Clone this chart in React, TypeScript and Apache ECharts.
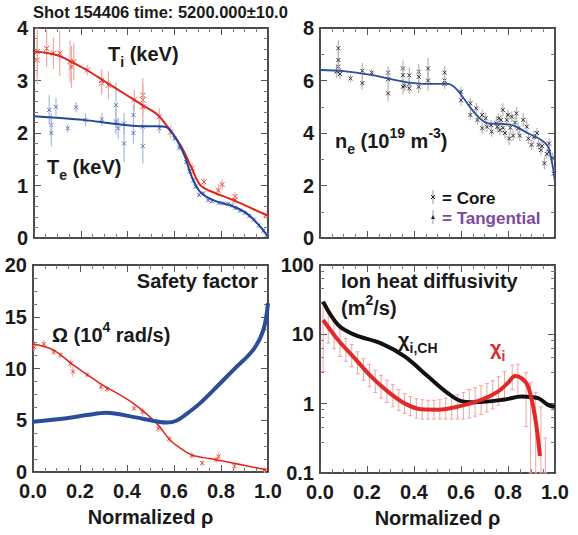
import React, { useEffect, useRef } from "react";
import * as echarts from "echarts";

const FONT = "'Liberation Sans', Arial, Helvetica, sans-serif";

// ---------- Panel 1: temperatures (keV) ----------
const tiFitRho = [0, 0.05, 0.1, 0.15, 0.225, 0.3, 0.4, 0.467, 0.53, 0.58, 0.63, 0.674, 0.71, 0.75, 0.852, 1.0];
const tiFitVal = [3.55, 3.53, 3.48, 3.38, 3.2, 2.99, 2.71, 2.52, 2.34, 2.06, 1.74, 1.33, 1.01, 0.9, 0.72, 0.42];
const teFitRho = [0, 0.1, 0.21, 0.353, 0.453, 0.538, 0.574, 0.61, 0.645, 0.674, 0.71, 0.766, 0.852, 0.909, 0.966, 1.0];
const teFitVal = [2.32, 2.29, 2.25, 2.17, 2.13, 2.13, 2.09, 1.87, 1.55, 1.17, 0.88, 0.72, 0.6, 0.47, 0.22, 0.03];
// [rho, value, error]
const tiPoints = [
  [0.014, 3.39, 0.46], [0.014, 3.55, 0.46], [0.054, 3.61, 0.35], [0.083, 3.52, 0.3], [0.11, 3.52, 0.43],
  [0.154, 3.36, 0.4], [0.16, 3.26, 0.4], [0.17, 3.36, 0.35], [0.228, 3.2, 0.1], [0.289, 2.95, 0.22],
  [0.289, 3.0, 0.22], [0.318, 2.91, 0.27], [0.429, 2.63, 0.2], [0.465, 2.72, 0.33], [0.465, 2.63, 0.3],
  [0.465, 2.5, 0.3], [0.536, 2.31, 0.16], [0.584, 2.02, 0.12], [0.676, 1.33, 0.1], [0.726, 1.07, 0.07],
  [0.788, 0.91, 0.11], [0.804, 1.02, 0.1], [0.859, 0.79, 0.08], [0.859, 0.72, 0.08], [0.991, 0.44, 0.07],
];
const tePoints = [
  [0.065, 2.44, 0.28], [0.074, 2.15, 0.23], [0.074, 2.0, 0.25], [0.094, 2.5, 0.17], [0.144, 2.09, 0.08],
  [0.18, 2.49, 0.1], [0.22, 2.25, 0.13], [0.29, 2.26, 0.12], [0.35, 2.53, 0.43], [0.35, 2.22, 0.25],
  [0.36, 2.09, 0.2], [0.385, 2.18, 0.2], [0.385, 1.8, 0.35], [0.425, 2.34, 0.2], [0.425, 2.0, 0.2],
  [0.465, 2.12, 0.13], [0.465, 1.75, 0.33], [0.536, 2.09, 0.1], [0.6, 1.9, 0.06], [0.62, 1.72, 0.06],
  [0.65, 1.45, 0.05], [0.665, 1.27, 0.05], [0.68, 1.1, 0.05], [0.69, 0.98, 0.05], [0.705, 0.82, 0.04],
  [0.724, 0.85, 0.04], [0.744, 0.72, 0.04], [0.76, 0.7, 0.04], [0.79, 0.67, 0.04], [0.81, 0.66, 0.04],
  [0.83, 0.65, 0.04], [0.845, 0.62, 0.04], [0.86, 0.57, 0.04], [0.88, 0.52, 0.04], [0.9, 0.48, 0.04],
  [0.92, 0.42, 0.04], [0.94, 0.35, 0.04], [0.96, 0.24, 0.04], [0.98, 0.14, 0.04], [0.995, 0.06, 0.04],
];

// ---------- Panel 2: density (1e19 m^-3) ----------
const neFitRho = [0, 0.1, 0.218, 0.36, 0.46, 0.545, 0.573, 0.601, 0.637, 0.68, 0.715, 0.786, 0.828, 0.885, 0.942, 0.97, 0.985, 1.0];
const neFitVal = [6.4, 6.36, 6.21, 5.95, 5.87, 5.87, 5.74, 5.45, 5.0, 4.56, 4.37, 4.34, 4.27, 3.99, 3.73, 3.48, 2.97, 2.21];
const nePoints = [
  [0.07, 6.34, 0.25], [0.078, 6.53, 0.3], [0.078, 6.78, 0.4], [0.078, 7.23, 0.3], [0.085, 6.25, 0.2],
  [0.13, 6.08, 0.15], [0.18, 6.37, 0.3], [0.18, 5.9, 0.25], [0.22, 6.3, 0.15], [0.29, 6.3, 0.25],
  [0.29, 6.05, 0.3], [0.29, 5.51, 0.3], [0.353, 6.46, 0.3], [0.353, 6.2, 0.3], [0.353, 5.76, 0.3],
  [0.36, 5.8, 0.2], [0.38, 6.2, 0.3], [0.38, 5.87, 0.3], [0.38, 5.7, 0.2], [0.42, 6.33, 0.3],
  [0.42, 6.14, 0.3], [0.42, 5.76, 0.25], [0.46, 6.46, 0.4], [0.46, 6.0, 0.4], [0.53, 6.3, 0.25],
  [0.53, 6.0, 0.2], [0.53, 5.87, 0.2], [0.6, 5.57, 0.2], [0.6, 5.25, 0.2], [0.64, 5.13, 0.2],
  [0.64, 4.69, 0.2], [0.665, 4.94, 0.2], [0.67, 4.5, 0.2], [0.69, 4.69, 0.2], [0.69, 4.18, 0.2],
  [0.705, 4.56, 0.2], [0.71, 4.24, 0.2], [0.728, 4.3, 0.2], [0.73, 4.05, 0.2], [0.75, 4.37, 0.25],
  [0.755, 4.24, 0.2], [0.76, 4.56, 0.2], [0.765, 4.11, 0.2], [0.77, 4.5, 0.2], [0.778, 4.88, 0.25],
  [0.778, 4.2, 0.2], [0.787, 4.0, 0.2], [0.795, 4.5, 0.25], [0.8, 4.69, 0.2], [0.805, 3.79, 0.25],
  [0.81, 4.2, 0.2], [0.816, 4.62, 0.2], [0.822, 3.9, 0.2], [0.83, 4.4, 0.25], [0.836, 4.75, 0.25],
  [0.843, 4.18, 0.25], [0.85, 3.9, 0.2], [0.865, 4.5, 0.25], [0.88, 4.24, 0.25], [0.887, 3.79, 0.2],
  [0.9, 3.55, 0.2], [0.91, 3.85, 0.25], [0.923, 4.0, 0.2], [0.93, 3.55, 0.2], [0.94, 3.35, 0.2],
  [0.945, 3.5, 0.2], [0.955, 2.85, 0.25], [0.965, 3.2, 0.2], [0.975, 3.6, 0.2], [0.975, 3.28, 0.2],
  [0.99, 3.05, 0.2], [0.995, 2.45, 0.25],
];

// ---------- Panel 3: safety factor and rotation ----------
const qRho = [0, 0.143, 0.23, 0.313, 0.43, 0.533, 0.57, 0.61, 0.65, 0.71, 0.782, 0.852, 0.937, 0.98, 1.0];
const qVal = [4.86, 5.19, 5.5, 5.73, 5.3, 4.86, 4.78, 4.95, 5.55, 6.63, 8.24, 9.85, 11.8, 13.7, 16.3];
const omFitRho = [0, 0.086, 0.171, 0.285, 0.427, 0.526, 0.583, 0.63, 0.675, 0.75, 0.824, 0.994];
const omFitVal = [12.37, 11.8, 10.34, 8.57, 6.63, 4.7, 3.09, 2.25, 1.64, 1.3, 1.0, 0.19];
const omPoints = [
  [0.005, 12.05, 0.4], [0.046, 12.37, 0.4], [0.088, 11.6, 0.3], [0.117, 11.3, 0.3], [0.16, 10.5, 0.4],
  [0.17, 9.7, 0.5], [0.23, 9.4, 0.3], [0.29, 8.24, 0.4], [0.315, 8.0, 0.3], [0.43, 6.15, 0.3],
  [0.466, 5.8, 0.4], [0.533, 4.2, 0.3], [0.58, 3.2, 0.3], [0.675, 1.6, 0.3], [0.72, 0.87, 0.3],
  [0.78, 1.2, 0.3], [0.79, 1.5, 0.4], [0.857, 0.58, 0.3], [0.985, 0.2, 0.3],
];

// ---------- Panel 4: ion heat diffusivity (m^2/s) ----------
const chiChRho = [0.013, 0.077, 0.148, 0.26, 0.36, 0.46, 0.545, 0.601, 0.658, 0.787, 0.857, 0.928, 0.97, 0.999];
const chiChVal = [29.6, 13.7, 9.8, 7.4, 4.8, 2.46, 1.41, 1.09, 1.05, 1.15, 1.27, 1.2, 0.96, 0.9];
const chiRho = [0.013, 0.077, 0.148, 0.218, 0.289, 0.36, 0.431, 0.502, 0.601, 0.686, 0.757, 0.8, 0.83, 0.86, 0.886, 0.915, 0.936];
const chiVal = [16.1, 8.3, 4.5, 2.45, 1.49, 1.01, 0.83, 0.82, 0.93, 1.13, 1.49, 2.0, 2.5, 2.3, 1.76, 0.65, 0.176];
// error bars: [rho, low, high]
const chiErr = [
  [0.013, 2.9, 29], [0.035, 7.5, 20], [0.06, 6.2, 15], [0.085, 4.8, 11.8], [0.11, 4.1, 8.7],
  [0.135, 3.4, 7.1], [0.16, 2.7, 5.6], [0.185, 2.15, 4.5], [0.21, 1.75, 3.7], [0.235, 1.45, 3.05],
  [0.26, 1.2, 2.55], [0.285, 1.04, 2.18], [0.31, 0.9, 1.88], [0.335, 0.8, 1.6], [0.36, 0.73, 1.4],
  [0.385, 0.67, 1.26], [0.41, 0.62, 1.18], [0.435, 0.6, 1.14], [0.46, 0.6, 1.12], [0.485, 0.6, 1.12],
  [0.51, 0.6, 1.14], [0.535, 0.6, 1.2], [0.56, 0.6, 1.28], [0.585, 0.6, 1.35], [0.61, 0.6, 1.45],
  [0.635, 0.62, 1.6], [0.66, 0.66, 1.7], [0.685, 0.7, 1.82], [0.71, 0.76, 1.96], [0.735, 0.84, 2.15],
  [0.76, 0.95, 2.45], [0.785, 1.1, 2.9], [0.818, 1.6, 3.6], [0.842, 1.26, 3.7], [0.877, 0.47, 2.8],
  [0.896, 0.1, 2.0], [0.918, 0.1, 1.44], [0.94, 0.1, 0.9], [0.959, 0.1, 0.32],
];

const zip = (xs: number[], ys: number[]) => xs.map((x, i) => [x, ys[i]]);

const TXT = "#1a1a1a";

function markRender(mark: string, bar: string, s: number) {
  return (_p: any, api: any) => {
    const x = api.value(0), y = api.value(1), e = api.value(2);
    const c = api.coord([x, y]);
    const lo = api.coord([x, y - e]);
    const hi = api.coord([x, y + e]);
    return {
      type: "group",
      children: [
        { type: "line", shape: { x1: c[0], y1: lo[1], x2: c[0], y2: hi[1] }, style: { stroke: bar, lineWidth: 1.2 } },
        { type: "line", shape: { x1: c[0] - s, y1: c[1] - s, x2: c[0] + s, y2: c[1] + s }, style: { stroke: mark, lineWidth: 1 } },
        { type: "line", shape: { x1: c[0] - s, y1: c[1] + s, x2: c[0] + s, y2: c[1] - s }, style: { stroke: mark, lineWidth: 1 } },
      ],
    };
  };
}

function rangeRender(bar: string) {
  return (_p: any, api: any) => {
    const x = api.value(0), lo = api.value(1), hi = api.value(2);
    const a = api.coord([x, lo]);
    const b = api.coord([x, hi]);
    return {
      type: "group",
      children: [
        { type: "line", shape: { x1: a[0], y1: a[1], x2: b[0], y2: b[1] }, style: { stroke: bar, lineWidth: 1 } },
        { type: "line", shape: { x1: b[0] - 2, y1: b[1], x2: b[0] + 2, y2: b[1] }, style: { stroke: bar, lineWidth: 1 } },
        { type: "line", shape: { x1: a[0] - 2, y1: a[1], x2: a[0] + 2, y2: a[1] }, style: { stroke: bar, lineWidth: 1 } },
      ],
    };
  };
}

function richText(x: number, y: number, text: string, fill: string, align = "left", size = 20) {
  const base = { fontFamily: FONT, fontWeight: "bold", fill };
  return {
    type: "text",
    x,
    y,
    z: 100,
    style: {
      text,
      align,
      verticalAlign: "middle",
      ...base,
      fontSize: size,
      rich: {
        m: { ...base, fontSize: size, lineHeight: 30, verticalAlign: "middle" },
        s: { ...base, fontSize: Math.round(size * 0.7), lineHeight: 14, verticalAlign: "bottom" },
        p: { ...base, fontSize: Math.round(size * 0.7), lineHeight: 14, verticalAlign: "top" },
      },
    },
  };
}

export default function App() {
  const ref = useRef<HTMLDivElement>(null);
  useEffect(() => {
    document.body.style.margin = "0";
    if (!ref.current) return;
    const chart = echarts.init(ref.current, undefined, { renderer: "svg" });

    const grids = [
      { left: 34, top: 28, width: 234, height: 210 },
      { left: 320, top: 28, width: 235, height: 210 },
      { left: 33, top: 265, width: 235, height: 207 },
      { left: 320, top: 265, width: 235, height: 208 },
    ];

    const axisLine = { show: true, onZero: false, lineStyle: { color: "#111", width: 1.5 } };
    const axisTick = { show: true, inside: true, length: 7, lineStyle: { color: "#555", width: 1 } };
    const labelStyle = { fontFamily: FONT, fontWeight: "bold", fontSize: 20, color: TXT };

    const xAxes: any[] = [];
    for (let i = 0; i < 4; i++) {
      const showLabel = i >= 2;
      xAxes.push({
        type: "value", gridIndex: i, position: "bottom", min: 0, max: 1, interval: 0.2,
        axisLine, axisTick,
        minorTick: { show: true, splitNumber: 4, length: 4, lineStyle: { color: "#777" } },
        splitLine: { show: false },
        axisLabel: { show: showLabel, ...labelStyle, margin: 9, formatter: (v: number) => v.toFixed(1) },
        name: showLabel ? "Normalized ρ" : "",
        nameLocation: "middle",
        nameGap: 35,
        nameTextStyle: { fontFamily: FONT, fontWeight: "bold", fontSize: 20, color: TXT },
      });
    }
    for (let i = 0; i < 4; i++) {
      xAxes.push({
        type: "value", gridIndex: i, position: "top", min: 0, max: 1, interval: 0.2,
        axisLine, axisTick,
        minorTick: { show: true, splitNumber: 4, length: 4, lineStyle: { color: "#777" } },
        splitLine: { show: false }, axisLabel: { show: false },
      });
    }

    const ySpecs: any[] = [
      { type: "value", min: 0, max: 4, interval: 1, minorTick: { show: true, splitNumber: 5, length: 4, lineStyle: { color: "#777" } } },
      { type: "value", min: 0, max: 8, interval: 2, minorTick: { show: true, splitNumber: 2, length: 4, lineStyle: { color: "#777" } } },
      { type: "value", min: 0, max: 20, interval: 5, minorTick: { show: true, splitNumber: 4, length: 4, lineStyle: { color: "#777" } } },
      { type: "log", logBase: 10, min: 0.1, max: 100, minorTick: { show: true, splitNumber: 5, length: 4, lineStyle: { color: "#777" } } },
    ];
    const yAxes: any[] = [];
    for (let i = 0; i < 4; i++) {
      yAxes.push({
        ...ySpecs[i], gridIndex: i, position: "left", axisLine, axisTick, splitLine: { show: false },
        axisLabel: {
          ...labelStyle, margin: 6,
          formatter: (v: number) => (i === 3 ? (v < 1 ? "0.1" : String(Math.round(v))) : String(v)),
        },
      });
    }
    for (let i = 0; i < 4; i++) {
      yAxes.push({
        ...ySpecs[i], gridIndex: i, position: "right", axisLine, axisTick, splitLine: { show: false },
        axisLabel: { show: false },
      });
    }

    const line = (xi: number, data: number[][], color: string, width: number, z = 5) => ({
      type: "line", xAxisIndex: xi, yAxisIndex: xi, data, symbol: "none", smooth: 0.35,
      lineStyle: { color, width }, z, silent: true,
    });

    const series: any[] = [
      { type: "custom", xAxisIndex: 0, yAxisIndex: 0, data: tiPoints, renderItem: markRender("#e4423b", "#f4a7a4", 2.5), z: 2, encode: { x: 0, y: 1 } },
      { type: "custom", xAxisIndex: 0, yAxisIndex: 0, data: tePoints, renderItem: markRender("#5a78c0", "#aab9de", 2), z: 2, encode: { x: 0, y: 1 } },
      line(0, zip(tiFitRho, tiFitVal), "#e2231a", 2),
      line(0, zip(teFitRho, teFitVal), "#24479b", 2),
      { type: "custom", xAxisIndex: 1, yAxisIndex: 1, data: nePoints, renderItem: markRender("#333", "#b5b5b5", 2), z: 2, encode: { x: 0, y: 1 } },
      line(1, zip(neFitRho, neFitVal), "#2a4f9f", 1.8),
      { type: "custom", xAxisIndex: 2, yAxisIndex: 2, data: omPoints, renderItem: markRender("#e4423b", "#f4a7a4", 2), z: 2, encode: { x: 0, y: 1 } },
      line(2, zip(omFitRho, omFitVal), "#e2231a", 1.5),
      line(2, zip(qRho, qVal), "#2b4c9b", 4),
      { type: "custom", xAxisIndex: 3, yAxisIndex: 3, data: chiErr, renderItem: rangeRender("#f2a2a2"), z: 2, encode: { x: 0, y: 1 } },
      line(3, zip(chiChRho, chiChVal), "#111", 4),
      line(3, zip(chiRho, chiVal), "#e02a2a", 4, 6),
    ];

    const graphic: any[] = [
      {
        type: "text", x: 33, y: 12, z: 100,
        style: { text: "Shot 154406 time: 5200.000±10.0", fontFamily: FONT, fontWeight: "bold", fontSize: 16.5, fill: TXT, verticalAlign: "middle" },
      },
      richText(108, 54, "{m|T}{s|i}{m| (keV)}", TXT),
      richText(47, 167, "{m|T}{s|e}{m| (keV)}", TXT),
      richText(335, 141, "{m|n}{s|e}{m| (10}{p|19}{m| m}{p|-3}{m|)}", TXT),
      // legend markers
      { type: "line", z: 100, shape: { x1: 433, y1: 190, x2: 433, y2: 204 }, style: { stroke: "#999", lineWidth: 1 } },
      { type: "line", z: 100, shape: { x1: 431, y1: 195, x2: 435, y2: 199 }, style: { stroke: "#222", lineWidth: 1 } },
      { type: "line", z: 100, shape: { x1: 431, y1: 199, x2: 435, y2: 195 }, style: { stroke: "#222", lineWidth: 1 } },
      { type: "line", z: 100, shape: { x1: 433, y1: 210, x2: 433, y2: 224 }, style: { stroke: "#999", lineWidth: 1 } },
      { type: "polygon", z: 100, shape: { points: [[433, 215], [431, 219], [435, 219]] }, style: { fill: "#222" } },
      { type: "text", x: 442, y: 198, z: 100, style: { text: "= Core", fontFamily: FONT, fontWeight: "bold", fontSize: 17, fill: "#111", verticalAlign: "middle" } },
      { type: "text", x: 442, y: 218, z: 100, style: { text: "= Tangential", fontFamily: FONT, fontWeight: "bold", fontSize: 17, fill: "#7b4a9b", verticalAlign: "middle" } },
      richText(258, 281, "{m|Safety factor}", TXT, "right"),
      richText(52, 335, "{m|Ω (10}{p|4}{m| rad/s)}", TXT),
      richText(341, 281, "{m|Ion heat diffusivity}", TXT),
      richText(341, 308, "{m|(m}{p|2}{m|/s)}", TXT),
      richText(398, 340, "{m|χ}{s|i,CH}", TXT),
      richText(490, 348, "{m|χ}{s|i}", "#e02a2a"),
    ];

    chart.setOption({
      animation: false,
      backgroundColor: "#ffffff",
      grid: grids,
      xAxis: xAxes,
      yAxis: yAxes,
      series,
      graphic,
    });
    return () => chart.dispose();
  }, []);

  return <div ref={ref} style={{ position: "absolute", left: 0, top: 0, width: 578, height: 535 }} />;
}
